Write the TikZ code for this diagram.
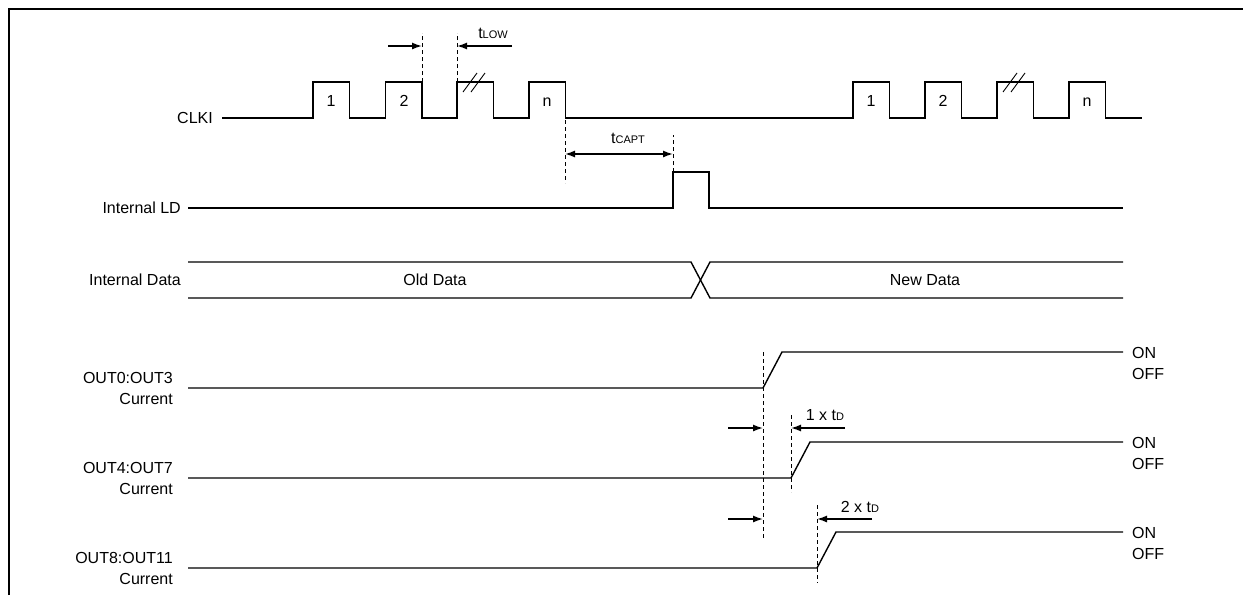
\documentclass[tikz,border=0pt]{standalone}
\usepackage{fontspec}
\setmainfont{Liberation Sans}
\usetikzlibrary{arrows.meta}

\begin{document}
\begin{tikzpicture}[x=1pt,y=-1pt,
    sig/.style={line width=1.4pt, line join=miter},
    guide/.style={line width=0.9pt, dash pattern=on 4pt off 3pt},
    dim/.style={line width=1.4pt, -{Latex[length=10pt,width=7pt]}},
    lbl/.style={font=\fontsize{16}{21}\selectfont, inner sep=0pt}]
    \useasboundingbox (0,0) rectangle (1243,595);
    \draw[line width=2.5pt] (9,595) -- (9,9) -- (1243,9);

    % CLKI
    \node[lbl, anchor=east] (clki) at (213,118) {CLKI};
    \draw[sig] (222,118)
        foreach \x in {313,385.5,457,529} {-- (\x,118) -- (\x,82) -- (\x+36.5,82) -- (\x+36.5,118)}
        -- (853,118)
        foreach \x in {853,925,997,1069} {-- (\x,118) -- (\x,82) -- (\x+36.5,82) -- (\x+36.5,118)}
        -- (1142,118);
    \node[lbl, anchor=base] (p1) at (331,106) {1};
    \node[lbl, anchor=base] (p2) at (404,106) {2};
    \node[lbl, anchor=base] (pn) at (547,106) {n};
    \node[lbl, anchor=base] (q1) at (871,106) {1};
    \node[lbl, anchor=base] (q2) at (943,106) {2};
    \node[lbl, anchor=base] (qn) at (1087,106) {n};
    \foreach \x in {457,997}
        \draw[line width=0.9pt] (\x+6,92) -- (\x+20,73) (\x+14,92) -- (\x+28,73);

    % t_LOW
    \coordinate (fall2) at (422,82);
    \coordinate (rise3) at (457,82);
    \draw[guide] (fall2) -- (422,33);
    \draw[guide] (rise3) -- (457,33);
    \coordinate (lowL) at (388,46);
    \coordinate (lowR) at (512,46);
    \draw[dim] (lowL) -- (422,46);
    \draw[dim] (lowR) -- (457,46);
    \node[lbl] (tlow) at (493,33) {t{\fontsize{11}{11}\selectfont LOW}};

    % t_CAPT
    \coordinate (lastfall) at (565,120);
    \coordinate (ldrise) at (673,172);
    \draw[guide] (lastfall) -- (565,183);
    \draw[guide] (ldrise) -- (673,135);
    \draw[dim, {Latex[length=10pt,width=7pt]}-{Latex[length=10pt,width=7pt]}] (565,154) -- (673,154);
    \node[lbl] (tcapt) at (628,138) {t{\fontsize{11}{11}\selectfont CAPT}};

    % Internal LD
    \node[lbl, anchor=east] (ld) at (181,208) {Internal LD};
    \draw[sig] (188,208) -- (673,208) -- (673,172) -- (709,172) -- (709,208) -- (1123,208);

    % Internal Data
    \node[lbl, anchor=east] (data) at (181,280) {Internal Data};
    \draw[sig] (188,262) -- (691,262) -- (710,298) -- (1123,298);
    \draw[sig] (188,298) -- (691,298) -- (710,262) -- (1123,262);
    \node[lbl] (old) at (435,280) {Old Data};
    \node[lbl] (new) at (925,280) {New Data};

    % outputs
    \foreach \y/\r/\nm in {388/763/OUT0:OUT3, 478/791/OUT4:OUT7, 568/817/OUT8:OUT11} {
        \node[lbl, anchor=east, align=right] (out\y) at (173,\y) {\nm\\Current};
        \draw[sig] (188,\y) -- (\r,\y) -- (\r+19,\y-36) -- (1123,\y-36);
        \node[lbl, anchor=west, align=left] (onoff\y) at (1132,\y-25) {ON\\OFF};
    }

    % t_D
    \draw[guide] (763,352) -- (763,540);
    \draw[guide] (791,415) -- (791,492);
    \draw[guide] (817,505) -- (817,583);
    \coordinate (dA) at (728,428);
    \coordinate (dB) at (845,428);
    \coordinate (dC) at (728,519);
    \coordinate (dD) at (872,519);
    \draw[dim] (dA) -- (763,428);
    \draw[dim] (dB) -- (791,428);
    \draw[dim] (dC) -- (763,519);
    \draw[dim] (dD) -- (817,519);
    \node[lbl] (td1) at (825,415) {1 x t{\fontsize{11}{11}\selectfont D}};
    \node[lbl] (td2) at (860,507) {2 x t{\fontsize{11}{11}\selectfont D}};
\end{tikzpicture}
\end{document}
